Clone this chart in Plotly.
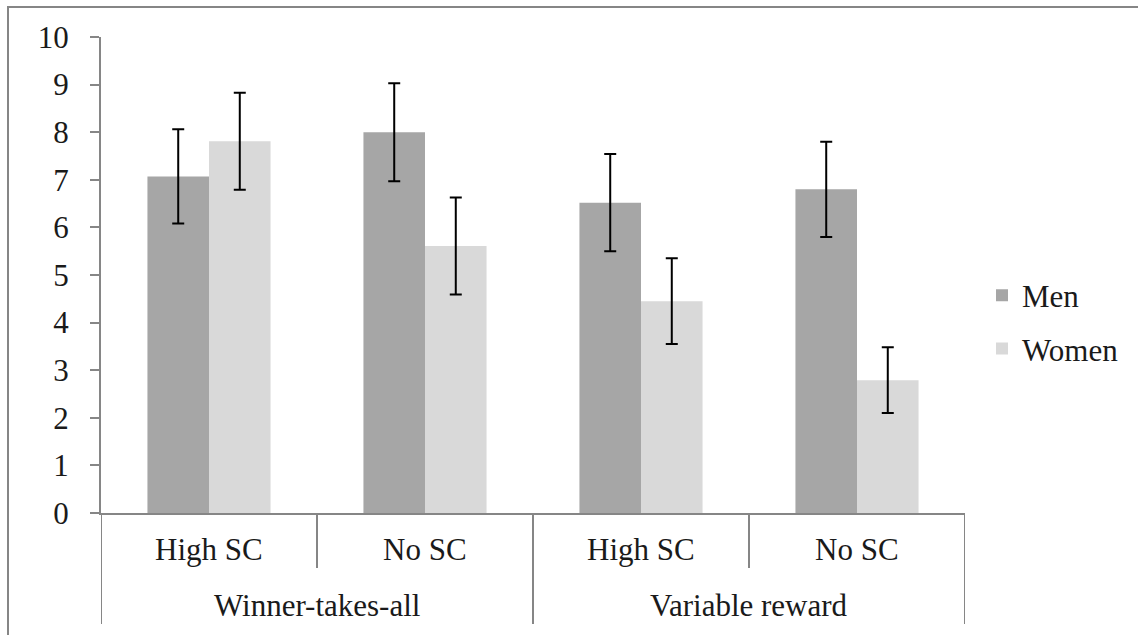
import plotly.graph_objects as go

# ---- data ----
conditions = ["High SC", "No SC", "High SC", "No SC"]
schemes = ["Winner-takes-all", "Variable reward"]
men = [7.07, 8.00, 6.52, 6.80]
men_err = [0.99, 1.03, 1.02, 1.00]
women = [7.81, 5.61, 4.45, 2.79]
women_err = [1.02, 1.02, 0.90, 0.69]
y_ticks = list(range(0, 11))

# ---- layout geometry ----
W, H = 1138, 635
ml, mr, mt, mb = 101, 173, 37, 122
pw = W - ml - mr
ph = H - mt - mb


def px_x(p):
    return (p - ml) / pw


def px_y(p):
    return (H - mb - p) / ph


FONT = "Liberation Serif"
TXT = "#1a1a1a"
GRAY = "#868686"
FS = 31

x = list(range(len(conditions)))

fig = go.Figure()
fig.add_trace(go.Bar(
    x=x, y=men, name="Men", legendgroup="m",
    marker=dict(color="#a6a6a6", line=dict(width=0)),
    error_y=dict(type="data", array=men_err, color="black", thickness=2, width=6),
))
fig.add_trace(go.Bar(
    x=x, y=women, name="Women", legendgroup="w",
    marker=dict(color="#d9d9d9", line=dict(width=0)),
    error_y=dict(type="data", array=women_err, color="black", thickness=2, width=6),
))

shapes = []
# outer chart border (left and top edges visible)
shapes.append(dict(type="rect", xref="paper", yref="paper",
                   x0=px_x(8), x1=px_x(1150), y0=px_y(650), y1=px_y(7),
                   line=dict(color=GRAY, width=2), layer="above"))
# category dividers
n = len(conditions)
for i in range(n + 1):
    xv = i - 0.5
    full = (i % 2 == 0)
    bottom = 624 if full else 568
    shapes.append(dict(type="line", xref="x", yref="paper",
                       x0=xv, x1=xv, y0=0, y1=px_y(bottom),
                       line=dict(color=GRAY, width=2)))

annotations = []
for i, c in enumerate(conditions):
    annotations.append(dict(x=i, y=px_y(549), xref="x", yref="paper", text=c,
                            showarrow=False, xanchor="center", yanchor="middle",
                            font=dict(family=FONT, size=FS, color=TXT)))
for j, s in enumerate(schemes):
    annotations.append(dict(x=2 * j + 0.5, y=px_y(605), xref="x", yref="paper", text=s,
                            showarrow=False, xanchor="center", yanchor="middle",
                            font=dict(family=FONT, size=FS, color=TXT)))

fig.update_layout(
    width=W, height=H,
    margin=dict(l=ml, r=mr, t=mt, b=mb, pad=0),
    paper_bgcolor="white", plot_bgcolor="white",
    barmode="group", bargap=0.43, bargroupgap=0,
    font=dict(family=FONT, size=FS, color=TXT),
    xaxis=dict(range=[-0.5, n - 0.5], showticklabels=False, ticks="",
               showgrid=False, zeroline=False, showline=True,
               linecolor=GRAY, linewidth=2, fixedrange=True),
    yaxis=dict(range=[0, 10], tickvals=y_ticks, ticks="outside", ticklen=9,
               tickcolor=GRAY, tickwidth=2, showgrid=False, zeroline=False,
               showline=True, linecolor=GRAY, linewidth=2,
               tickfont=dict(family=FONT, size=FS, color=TXT),
               ticklabelstandoff=15),
    legend=dict(x=px_x(982), y=px_y(322), xanchor="left", yanchor="middle",
                font=dict(family=FONT, size=FS, color=TXT),
                bgcolor="rgba(0,0,0,0)", traceorder="grouped", tracegroupgap=10),
    shapes=shapes, annotations=annotations,
)

fig.write_html("out.html")
